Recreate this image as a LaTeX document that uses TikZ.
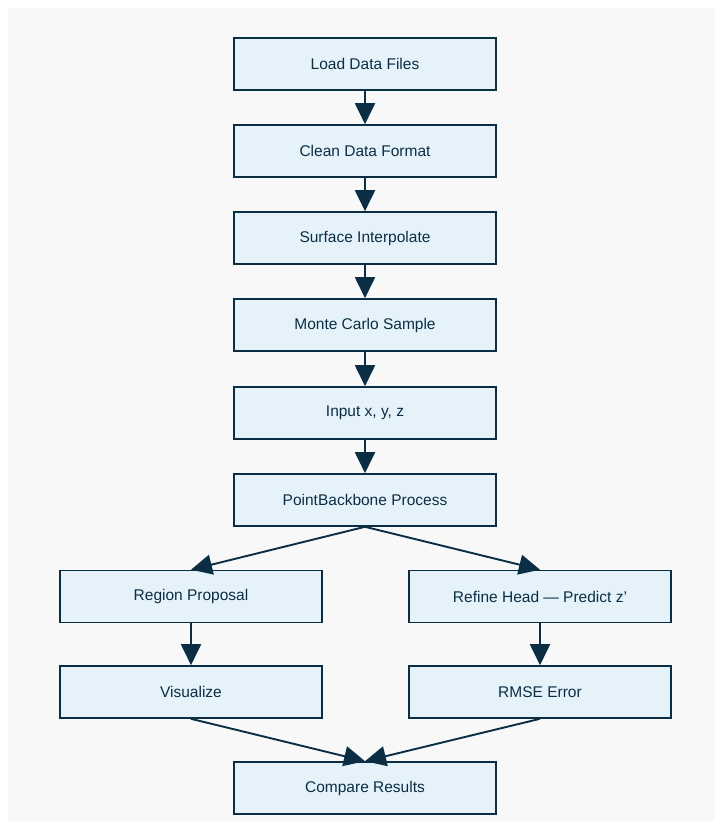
\documentclass[tikz,border=0pt]{standalone}
\usepackage{fontspec}
\setmainfont{Liberation Sans}
\usetikzlibrary{arrows.meta}
\definecolor{edge}{HTML}{0B2E44}
\definecolor{boxfill}{HTML}{E6F2FA}
\definecolor{bg}{HTML}{F8F8F8}
\begin{document}
\begin{tikzpicture}[x=1pt,y=-1pt,
  stepbox/.style={draw=edge,line width=1.6pt,fill=boxfill,minimum width=262pt,minimum height=52pt,inner sep=0pt,font=\fontsize{15.5}{18}\selectfont,text=edge},
  link/.style={draw=edge,line width=1.9pt,-{Triangle[length=21pt,width=20pt]},shorten >=0pt}]
\useasboundingbox (0,0) rectangle (722,829);
\fill[bg] (8,8) rectangle (715,821);
\node[stepbox] (load) at (365,64) {Load Data Files};
\node[stepbox] (clean) at (365,151) {Clean Data Format};
\node[stepbox] (surf) at (365,238) {Surface Interpolate};
\node[stepbox] (mc) at (365,325) {Monte Carlo Sample};
\node[stepbox] (inp) at (365,413) {Input x, y, z};
\node[stepbox] (pb) at (365,500) {PointBackbone Process};
\node[stepbox] (rp) at (191,596.5) {Region Proposal};
\node[stepbox] (rh) at (540,596.5) {Refine Head — Predict z\symbol{"27}};
\node[stepbox] (vis) at (191,692) {Visualize};
\node[stepbox] (rmse) at (540,692) {RMSE Error};
\node[stepbox] (cmp) at (365,788) {Compare Results};
\draw[link] (load) -- (clean);
\draw[link] (clean) -- (surf);
\draw[link] (surf) -- (mc);
\draw[link] (mc) -- (inp);
\draw[link] (inp) -- (pb);
\draw[link] (pb.south) -- (rp.north);
\draw[link] (pb.south) -- (rh.north);
\draw[link] (rp) -- (vis);
\draw[link] (rh) -- (rmse);
\draw[link] (vis.south) -- (cmp.north);
\draw[link] (rmse.south) -- (cmp.north);
\end{tikzpicture}
\end{document}
